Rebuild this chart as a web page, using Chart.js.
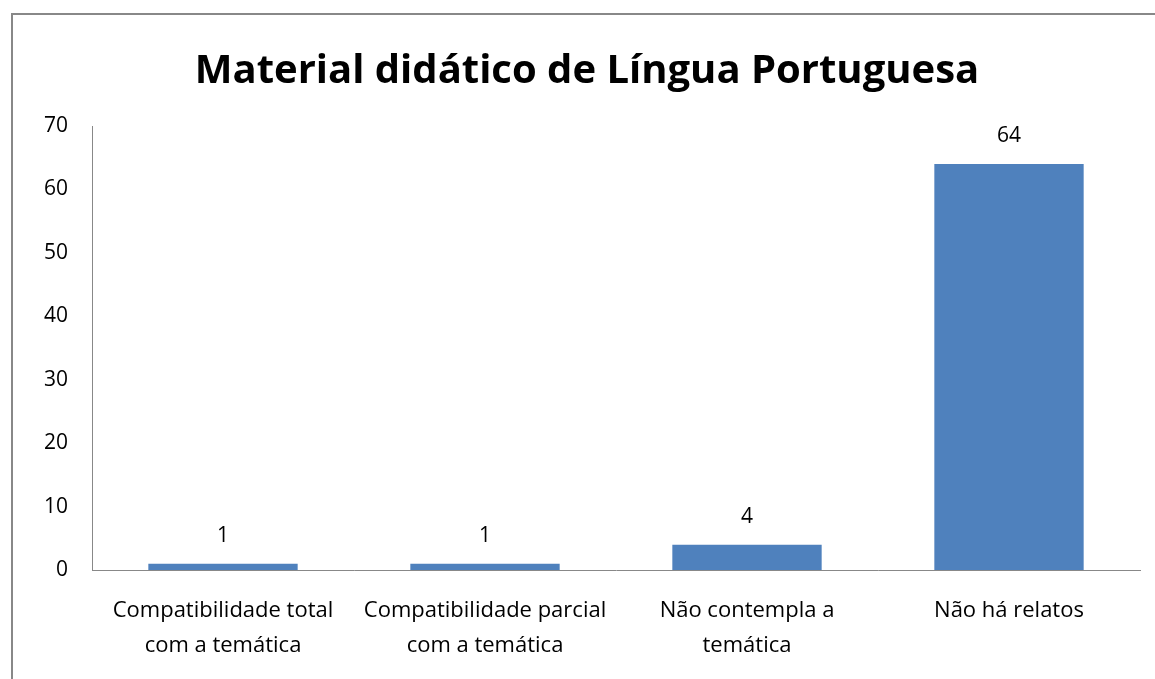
<!DOCTYPE html>
<html>
<head>
<meta charset="utf-8">
<script src="https://cdn.jsdelivr.net/npm/chart.js@4"></script>
<style>
  body { margin: 0; width: 1155px; height: 679px; overflow: hidden; background: #fff; }
  #frame { position: absolute; left: 11px; top: 13px; width: 1300px; height: 800px; border: 2px solid #888; }
  #wrap { position: absolute; left: 0; top: 0; width: 1155px; height: 679px; }
</style>
</head>
<body>
<div id="frame"></div>
<div id="wrap"><canvas id="chart" width="1155" height="679"></canvas></div>
<script>
const categories = [
  ["Compatibilidade total", "com a temática"],
  ["Compatibilidade parcial", "com a temática"],
  ["Não contempla a", "temática"],
  ["Não há relatos"]
];
const values = [1, 1, 4, 64];
const yTicks = [0, 10, 20, 30, 40, 50, 60, 70];

const fontFamily = "'Open Sans', sans-serif";

// writes the value above each bar
const barValues = {
  id: "barValues",
  afterDatasetsDraw(chart) {
    const ctx = chart.ctx;
    const meta = chart.getDatasetMeta(0);
    ctx.save();
    ctx.font = "21px " + fontFamily;
    ctx.fillStyle = "#000";
    ctx.textAlign = "center";
    ctx.textBaseline = "middle";
    meta.data.forEach((bar, i) => {
      ctx.fillText(String(values[i]), bar.x, bar.y - 28);
    });
    ctx.restore();
  }
};

const ctx = document.getElementById("chart").getContext("2d");
const chart = new Chart(ctx, {
  type: "bar",
  data: {
    labels: categories,
    datasets: [{
      data: values,
      backgroundColor: "#4F81BD",
      borderWidth: 0,
      barPercentage: 0.57,
      categoryPercentage: 1
    }]
  },
  plugins: [barValues],
  options: {
    responsive: false,
    animation: false,
    layout: { padding: { left: 34, right: 15, top: 0, bottom: 0 } },
    plugins: {
      legend: { display: false },
      tooltip: { enabled: false },
      title: {
        display: true,
        text: "Material didático de Língua Portuguesa",
        color: "#000",
        font: { family: fontFamily, size: 40, weight: "bold" },
        padding: { top: 48, bottom: 30 }
      }
    },
    scales: {
      x: {
        grid: { display: false, drawTicks: false },
        border: { display: true, color: "#888", width: 1 },
        ticks: {
          color: "#000",
          font: { family: fontFamily, size: 22, lineHeight: 1.6 },
          padding: 23,
          maxRotation: 0,
          autoSkip: false
        },
        afterFit: (s) => { s.height = 109; }
      },
      y: {
        min: 0,
        max: 70,
        afterBuildTicks: (s) => { s.ticks = yTicks.map(v => ({ value: v })); },
        grid: { display: false, drawTicks: false },
        border: { display: true, color: "#888", width: 1 },
        ticks: {
          color: "#000",
          font: { family: fontFamily, size: 21 },
          padding: 24
        },
        afterFit: (s) => { s.width = 58; }
      }
    }
  }
});
</script>
</body>
</html>
